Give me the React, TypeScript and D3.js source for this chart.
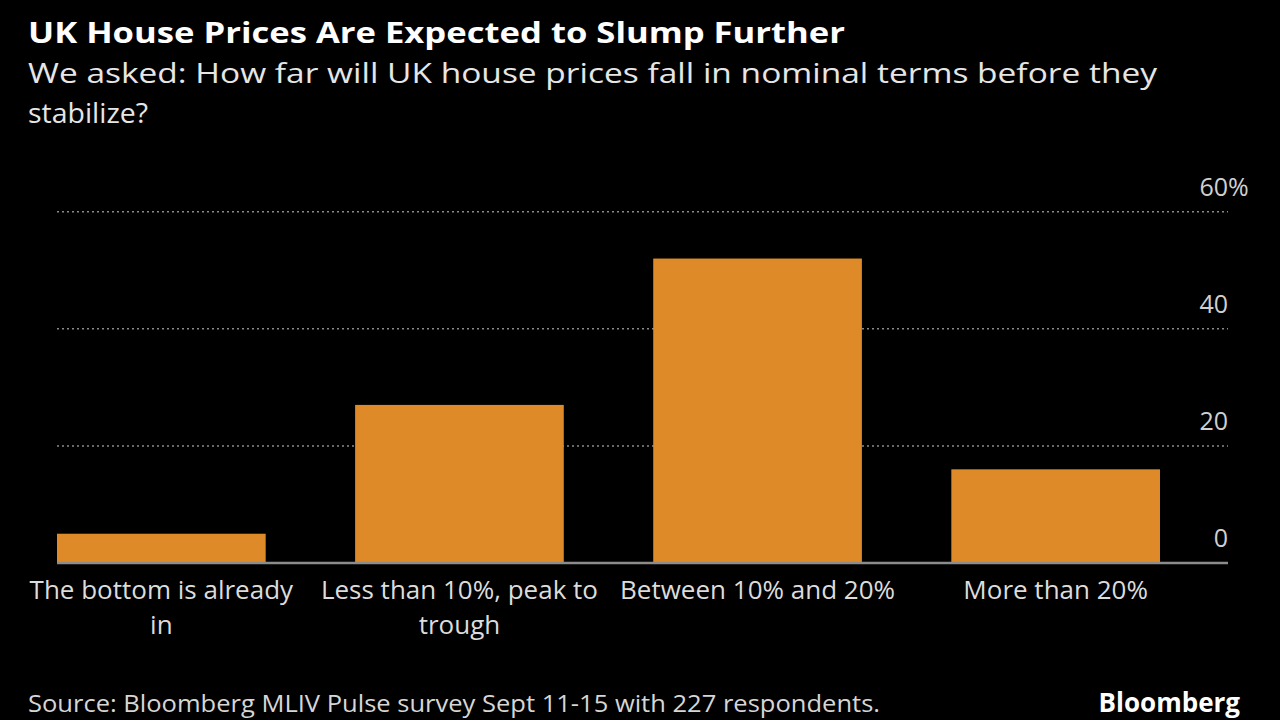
import React from "react";
import * as d3 from "d3";

const categories: string[][] = [
  ["The bottom is already", "in"],
  ["Less than 10%, peak to", "trough"],
  ["Between 10% and 20%"],
  ["More than 20%"],
];
const values: number[] = [5, 27, 52, 16];
const yTicks: number[] = [0, 20, 40, 60];

const title = "UK House Prices Are Expected to Slump Further";
const subtitleLines = [
  "We asked: How far will UK house prices fall in nominal terms before they",
  "stabilize?",
];
const source = "Source: Bloomberg MLIV Pulse survey Sept 11-15 with 227 respondents.";
const brand = "Bloomberg";

const W = 1280;
const H = 720;
const FONT = "'Open Sans', Lato, sans-serif";

export default function App() {
  const x = d3
    .scaleBand<number>()
    .domain(values.map((_, i) => i))
    .range([57, 1160])
    .paddingInner(0.3)
    .paddingOuter(0);
  const y = d3.scaleLinear().domain([0, 60]).range([563, 211.7]);
  const gridX0 = 57;
  const gridX1 = 1228;

  return (
    <svg
      width={W}
      height={H}
      style={{ position: "absolute", left: 0, top: 0, background: "#000" }}
      fontFamily={FONT}
    >
      <rect x={0} y={0} width={W} height={H} fill="#000" />
      <text
        x={28}
        y={43}
        fill="#ffffff"
        fontSize={28}
        fontWeight={700}
        textLength={817}
        lengthAdjust="spacingAndGlyphs"
      >
        {title}
      </text>
      <text
        x={28}
        y={83}
        fill="#e6e6e6"
        fontSize={28}
        textLength={1129}
        lengthAdjust="spacingAndGlyphs"
      >
        {subtitleLines[0]}
      </text>
      <text
        x={28}
        y={123}
        fill="#e6e6e6"
        fontSize={28}
        textLength={120}
        lengthAdjust="spacingAndGlyphs"
      >
        {subtitleLines[1]}
      </text>

      {yTicks
        .filter((t) => t !== 0)
        .map((t) => (
          <line
            key={t}
            x1={gridX0}
            x2={gridX1}
            y1={y(t)}
            y2={y(t)}
            stroke="#8a8a8a"
            strokeWidth={1.5}
            strokeDasharray="2 3"
          />
        ))}

      {values.map((v, i) => (
        <rect
          key={i}
          x={x(i)}
          y={y(v)}
          width={x.bandwidth()}
          height={y(0) - y(v)}
          fill="#DE8A28"
        />
      ))}

      <line
        x1={gridX0}
        x2={gridX1}
        y1={y(0)}
        y2={y(0)}
        stroke="#8c8c8c"
        strokeWidth={2.5}
      />

      {yTicks.map((t) => (
        <g key={t}>
          <text
            x={gridX1}
            y={y(t) - 16}
            fill="#d0d0d0"
            fontSize={25}
            textAnchor="end"
          >
            {t}
          </text>
          {t === 60 && (
            <text x={gridX1} y={y(t) - 16} fill="#d0d0d0" fontSize={25}>
              %
            </text>
          )}
        </g>
      ))}

      {categories.map((lines, i) =>
        lines.map((l, j) => (
          <text
            key={i + "-" + j}
            x={(x(i) as number) + x.bandwidth() / 2}
            y={599 + j * 35}
            fill="#dcdcdc"
            fontSize={26}
            textAnchor="middle"
          >
            {l}
          </text>
        ))
      )}

      <text
        x={28}
        y={712}
        fill="#d6d6d6"
        fontSize={24}
        textLength={852}
        lengthAdjust="spacingAndGlyphs"
      >
        {source}
      </text>
      <text
        x={1240}
        y={712}
        fill="#ffffff"
        fontSize={26}
        fontWeight={700}
        textAnchor="end"
      >
        {brand}
      </text>
    </svg>
  );
}
